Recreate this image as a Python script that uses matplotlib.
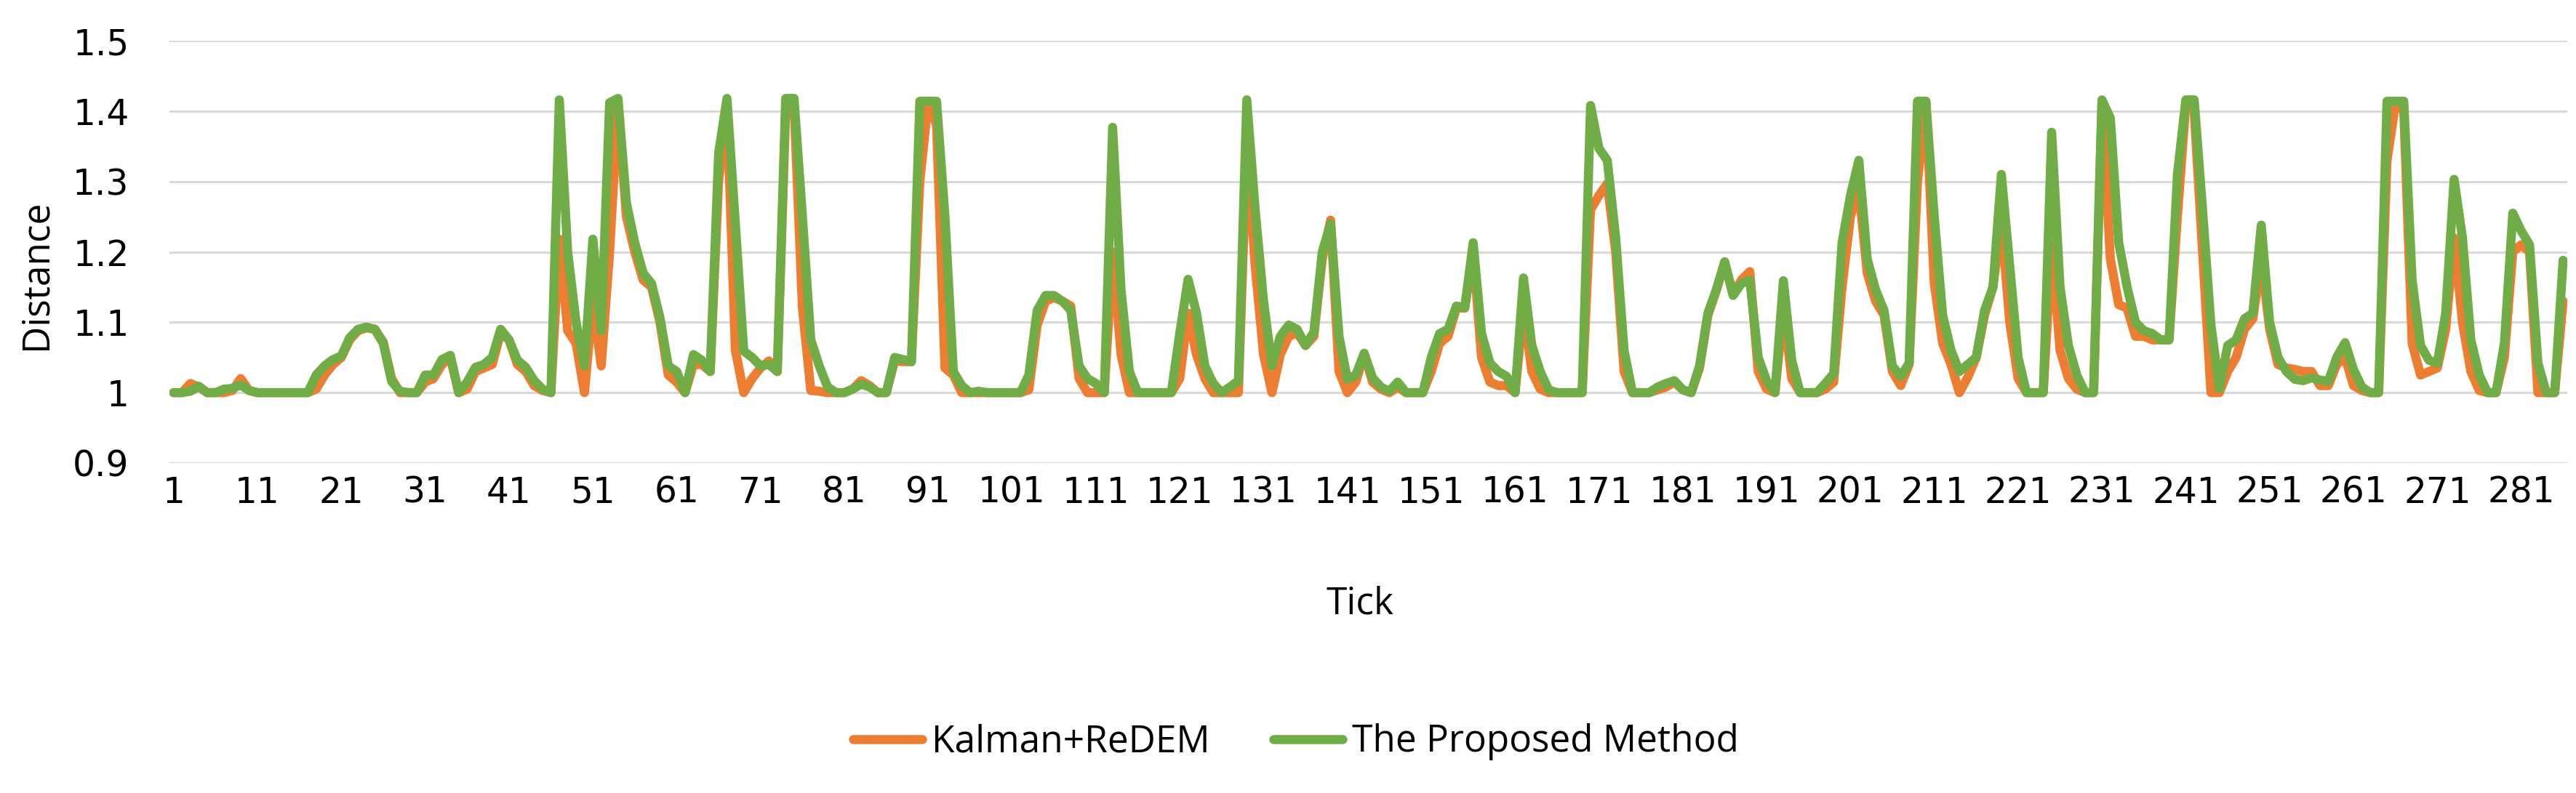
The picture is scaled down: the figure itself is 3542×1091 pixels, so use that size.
import numpy as np
import matplotlib
matplotlib.use("Agg")
import matplotlib.pyplot as plt

# Distance per tick
proposed = [
    1.0, 1.0, 1.002, 1.009, 1.0, 1.0, 1.005, 1.006, 1.011, 1.003,
    1.0, 1.0, 1.0, 1.0, 1.0, 1.0, 1.0, 1.025, 1.038, 1.047,
    1.052, 1.078, 1.09, 1.093, 1.09, 1.07, 1.016, 1.002, 1.0, 1.0,
    1.025, 1.025, 1.047, 1.053, 1.0, 1.015, 1.036, 1.04, 1.05, 1.09,
    1.075, 1.046, 1.036, 1.017, 1.005, 1.0, 1.416, 1.2, 1.1, 1.038,
    1.218, 1.088, 1.412, 1.418, 1.27, 1.213, 1.17, 1.155, 1.107, 1.038,
    1.03, 1.0, 1.054, 1.046, 1.03, 1.34, 1.418, 1.24, 1.059, 1.05,
    1.038, 1.04, 1.03, 1.418, 1.418, 1.25, 1.075, 1.038, 1.008, 1.0,
    1.0, 1.005, 1.012, 1.008, 1.0, 1.0, 1.05, 1.047, 1.044, 1.414,
    1.414, 1.414, 1.25, 1.03, 1.01, 1.0, 1.002, 1.0, 1.0, 1.0,
    1.0, 1.0, 1.025, 1.117, 1.138, 1.138, 1.13, 1.117, 1.038, 1.02,
    1.013, 1.0, 1.377, 1.146, 1.03, 1.0, 1.0, 1.0, 1.0, 1.0,
    1.084, 1.161, 1.113, 1.038, 1.013, 1.0, 1.008, 1.017, 1.416, 1.26,
    1.13, 1.038, 1.08, 1.096, 1.09, 1.067, 1.086, 1.2, 1.24, 1.08,
    1.019, 1.025, 1.056, 1.021, 1.008, 1.002, 1.015, 1.0, 1.0, 1.0,
    1.05, 1.084, 1.09, 1.123, 1.121, 1.213, 1.084, 1.042, 1.03, 1.023,
    1.0, 1.163, 1.067, 1.03, 1.004, 1.0, 1.0, 1.0, 1.0, 1.408,
    1.347, 1.33, 1.22, 1.06, 1.0, 1.0, 1.0, 1.008, 1.013, 1.017,
    1.004, 1.0, 1.038, 1.113, 1.146, 1.186, 1.138, 1.155, 1.16, 1.05,
    1.017, 1.0, 1.159, 1.046, 1.0, 1.0, 1.0, 1.013, 1.027, 1.213,
    1.28, 1.33, 1.19, 1.146, 1.117, 1.038, 1.023, 1.042, 1.414, 1.414,
    1.25, 1.11, 1.06, 1.03, 1.04, 1.05, 1.117, 1.15, 1.31, 1.18,
    1.05, 1.0, 1.0, 1.0, 1.37, 1.15, 1.067, 1.025, 1.0, 1.0,
    1.416, 1.39, 1.213, 1.15, 1.1, 1.088, 1.084, 1.075, 1.075, 1.31,
    1.416, 1.416, 1.26, 1.096, 1.006, 1.067, 1.075, 1.105, 1.113, 1.238,
    1.1, 1.05, 1.03, 1.019, 1.017, 1.021, 1.018, 1.016, 1.05, 1.071,
    1.033, 1.008, 1.0, 1.0, 1.414, 1.414, 1.414, 1.159, 1.067, 1.046,
    1.042, 1.113, 1.303, 1.22, 1.075, 1.025, 1.0, 1.0, 1.07, 1.255,
    1.23, 1.21, 1.042, 1.0, 1.0, 1.188,
]

kalman = [
    1.0, 1.0, 1.013, 1.008, 1.0, 1.0, 1.0, 1.003, 1.02, 1.003,
    1.0, 1.0, 1.0, 1.0, 1.0, 1.0, 1.0, 1.005, 1.025, 1.04,
    1.05, 1.075, 1.088, 1.092, 1.09, 1.072, 1.02, 1.0, 1.0, 1.0,
    1.015, 1.02, 1.04, 1.05, 1.0, 1.005, 1.03, 1.035, 1.04, 1.085,
    1.075, 1.04, 1.03, 1.01, 1.003, 1.0, 1.218, 1.088, 1.07, 1.0,
    1.13, 1.038, 1.2, 1.41, 1.25, 1.2, 1.16, 1.15, 1.10, 1.025,
    1.015, 1.0, 1.04, 1.04, 1.03, 1.30, 1.41, 1.06, 1.0, 1.02,
    1.035, 1.045, 1.03, 1.40, 1.41, 1.12, 1.003, 1.002, 1.0, 1.0,
    1.0, 1.005, 1.017, 1.01, 1.0, 1.0, 1.045, 1.044, 1.044, 1.30,
    1.414, 1.38, 1.035, 1.025, 1.0, 1.0, 1.0, 1.0, 1.0, 1.0,
    1.0, 1.0, 1.004, 1.096, 1.13, 1.135, 1.13, 1.123, 1.02, 1.0,
    1.0, 1.0, 1.2, 1.054, 1.0, 1.0, 1.0, 1.0, 1.0, 1.0,
    1.02, 1.113, 1.054, 1.02, 1.0, 1.0, 1.0, 1.0, 1.35, 1.18,
    1.054, 1.0, 1.054, 1.08, 1.085, 1.067, 1.08, 1.19, 1.245, 1.03,
    1.0, 1.015, 1.055, 1.015, 1.005, 1.0, 1.008, 1.0, 1.0, 1.0,
    1.03, 1.07, 1.08, 1.12, 1.12, 1.2, 1.05, 1.015, 1.01, 1.01,
    1.0, 1.12, 1.03, 1.005, 1.0, 1.0, 1.0, 1.0, 1.0, 1.26,
    1.28, 1.297, 1.20, 1.03, 1.0, 1.0, 1.0, 1.004, 1.008, 1.015,
    1.004, 1.0, 1.035, 1.11, 1.145, 1.185, 1.14, 1.16, 1.172, 1.03,
    1.005, 1.0, 1.12, 1.02, 1.0, 1.0, 1.0, 1.005, 1.015, 1.15,
    1.25, 1.29, 1.17, 1.13, 1.11, 1.03, 1.01, 1.04, 1.30, 1.414,
    1.155, 1.07, 1.04, 1.0, 1.022, 1.05, 1.11, 1.15, 1.243, 1.1,
    1.02, 1.0, 1.0, 1.0, 1.21, 1.06, 1.02, 1.005, 1.0, 1.0,
    1.41, 1.19, 1.125, 1.12, 1.08, 1.08, 1.075, 1.075, 1.075, 1.25,
    1.41, 1.40, 1.2, 1.0, 1.0, 1.03, 1.05, 1.09, 1.105, 1.19,
    1.09, 1.04, 1.035, 1.033, 1.03, 1.03, 1.01, 1.01, 1.04, 1.05,
    1.01, 1.003, 1.0, 1.0, 1.33, 1.41, 1.40, 1.07, 1.025, 1.03,
    1.035, 1.09, 1.22, 1.1, 1.03, 1.003, 1.0, 1.0, 1.05, 1.2,
    1.21, 1.2, 1.0, 1.0, 1.0, 1.13,
]

ticks = np.arange(1, len(proposed) + 1)
y_ticks = [0.9, 1.0, 1.1, 1.2, 1.3, 1.4, 1.5]
y_labels = ["0.9", "1", "1.1", "1.2", "1.3", "1.4", "1.5"]

ORANGE = "#ED7D31"
GREEN = "#70AD47"
W, H = 3542, 1091

fig = plt.figure(figsize=(W / 100, H / 100), dpi=100)
ax = fig.add_axes([233 / W, 1 - 637 / H, (3530 - 233) / W, (637 - 56) / H])

line_kw = dict(linewidth=9, solid_joinstyle="round", solid_capstyle="round")
ax.plot(ticks, kalman, color=ORANGE, label="Kalman+ReDEM", **line_kw)
ax.plot(ticks, proposed, color=GREEN, label="The Proposed Method", **line_kw)

ax.set_xlim(0.5, len(ticks) + 0.5)
ax.set_ylim(0.9, 1.5)
ax.set_xticks(ticks[::10])
ax.set_yticks(y_ticks)
ax.set_yticklabels(y_labels)
ax.grid(axis="y", color="#D9D9D9", linewidth=2.2)
ax.set_axisbelow(True)
for s in ax.spines.values():
    s.set_visible(False)

ax.tick_params(axis="both", length=0, labelsize=35, colors="#000000")
ax.tick_params(axis="y", pad=40)
ax.tick_params(axis="x", pad=12)

text_font = "Open Sans"
fig.text(50 / W, 1 - 378 / H, "Distance", rotation=90, ha="center", va="center",
         fontsize=37, family=text_font)
fig.text(1870 / W, 1 - 831 / H, "Tick", ha="center", va="center",
         fontsize=37, family=text_font)

fig.legend(loc="center", bbox_to_anchor=(0.503, 1 - 1021 / H), ncol=2, frameon=False,
           prop={"family": text_font, "size": 37}, handlelength=1.85,
           handletextpad=0.25, columnspacing=1.7)

fig.savefig("out.png", dpi=100)
